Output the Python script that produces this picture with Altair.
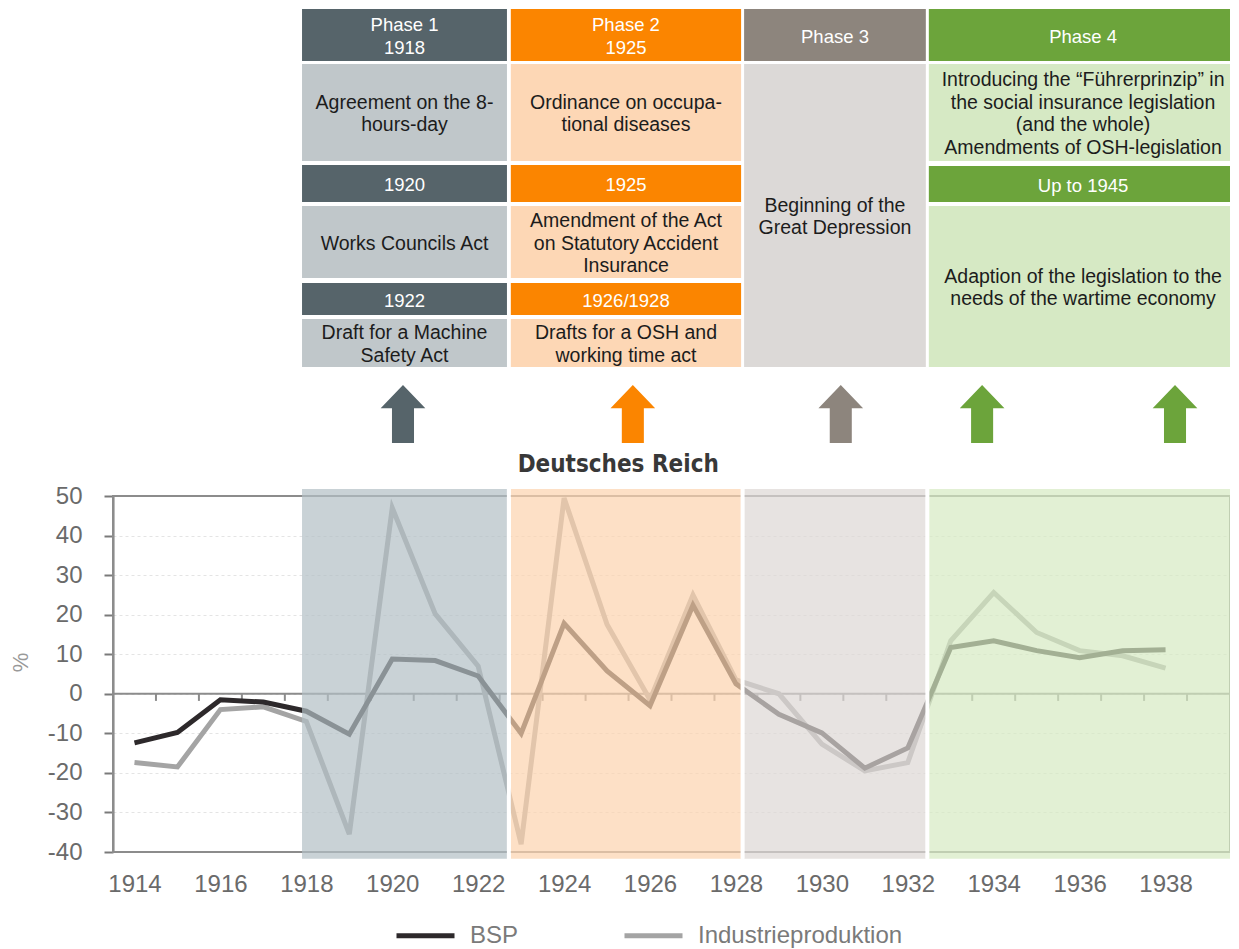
import altair as alt
import pandas as pd

# ---------------- data ----------------
years = [1914, 1915, 1916, 1917, 1918, 1919, 1920, 1921, 1922, 1923, 1924, 1925, 1926,
         1927, 1928, 1929, 1930, 1931, 1932, 1933, 1934, 1935, 1936, 1937, 1938]
bsp = [-12.4, -9.8, -1.5, -2.1, -4.4, -10.2, 8.8, 8.4, 4.5, -10.0, 17.8, 5.8, -3.0,
       22.4, 2.5, -5.2, -9.9, -18.8, -13.7, 11.7, 13.4, 10.9, 9.1, 10.9, 11.1]
industrie = [-17.4, -18.5, -4.0, -3.3, -7.0, -35.5, 47.0, 20.2, 7.0, -38.0, 49.5, 17.5, -1.5,
             25.0, 3.5, 0.0, -12.7, -19.5, -17.4, 13.4, 25.6, 15.5, 10.9, 9.6, 6.5]
series_names = ["BSP", "Industrieproduktion"]
series_colors = ["#2d292b", "#a4a4a4"]

phase_start = [1917.9, 1922.76, 1928.19, 1932.49]
phase_end = [1922.67, 1928.12, 1932.42, 1939.67]
phase_dark = ["#56646a", "#fb8500", "#8d857d", "#6ca43b"]
phase_light = ["#c0c7ca", "#fdd7b5", "#dcd9d7", "#d6e9c4"]
phase_tint = ["#b2bfc4", "#fcd3ae", "#ddd7d4", "#d6eac2"]

y_ticks = [-40, -30, -20, -10, 0, 10, 20, 30, 40, 50]
x_labels = [1914, 1916, 1918, 1920, 1922, 1924, 1926, 1928, 1930, 1932, 1934, 1936, 1938]
minor_ticks = [1914.5, 1915.5, 1916.5, 1917.5, 1918.5, 1919.5, 1920.5, 1921.5, 1922.5,
               1923.5, 1924.5, 1925.5, 1926.5, 1927.5, 1928.5, 1929.5, 1930.5, 1931.5,
               1932.5, 1933.5, 1934.5, 1935.5, 1936.5, 1937.5, 1938.5]

cell_phase = [0, 0, 0, 0, 0, 0, 1, 1, 1, 1, 1, 1, 2, 2, 3, 3, 3, 3]
cell_kind = ["h", "c", "h", "c", "h", "c", "h", "c", "h", "c", "h", "c", "h", "c", "h", "c", "h", "c"]
cell_text = [
    "Phase 1\n1918", "Agreement on the 8-\nhours-day", "1920", "Works Councils Act",
    "1922", "Draft for a Machine\nSafety Act",
    "Phase 2\n1925", "Ordinance on occupa-\ntional diseases", "1925",
    "Amendment of the Act\non Statutory Accident\nInsurance", "1926/1928",
    "Drafts for a OSH and\nworking time act",
    "Phase 3", "Beginning of the\nGreat Depression",
    "Phase 4",
    "Introducing the \u201cF\u00fchrerprinzip\u201d in\nthe social insurance legislation\n(and the whole)\nAmendments of OSH-legislation",
    "Up to 1945", "Adaption of the legislation to the\nneeds of the wartime economy",
]

arrow_year = [1920.25, 1925.6, 1930.44, 1933.73, 1938.22]
arrow_phase = [0, 1, 2, 3, 3]
title_text = "Deutsches Reich"
title_year = 1925.26

# ---------------- layout (page pixel rows of the table) ----------------
cell_top = [9, 64, 165, 206, 283, 319, 9, 64, 165, 206, 283, 319, 9, 64, 9, 64, 166, 206]
cell_bot = [61, 161, 202, 278, 315, 367, 61, 161, 202, 278, 315, 367, 61, 367, 61, 161, 202, 367]
LINE_H = 22.5
TEXT_SHIFT = 1.5
ARROW_Y = 414
TITLE_Y = 465
PANEL_TOP, PANEL_BOT = 51.8, -41.7

FONT = "Liberation Sans"
X = alt.Scale(domain=[1913.5, 1939.5], nice=False, zero=False)
YC = alt.Scale(domain=[-40, 50], range=[843, 487], nice=False, zero=False)
YP = alt.Scale(domain=[9, 852], range=[0, 843], nice=False, zero=False)
XAX = alt.Axis(values=x_labels, labelExpr="'' + datum.value", ticks=False, tickSize=0,
               domain=False, grid=False, labelFontSize=24, labelFont=FONT,
               labelColor="#6a6a6a", labelPadding=20, title=None)

# frame of the original graph
frame_df = pd.DataFrame({"x0": [1913.5], "x1": [1939.5], "y0": [-40], "y1": [50]})
frame = alt.Chart(frame_df).mark_rect(fillOpacity=0, stroke="#8c8c8c", strokeWidth=2).encode(
    x=alt.X("x0:Q", scale=X, axis=XAX, title=None), x2="x1:Q",
    y=alt.Y("y0:Q", scale=YC, axis=None), y2="y1:Q")

zero_df = pd.DataFrame({"x0": [1913.5], "x1": [1939.5], "y0": [0]})
zero = alt.Chart(zero_df).mark_rule(color="#8c8c8c", strokeWidth=2).encode(
    x=alt.X("x0:Q", scale=X, axis=XAX, title=None), x2="x1:Q",
    y=alt.Y("y0:Q", scale=YC, axis=None))

ticks_df = pd.DataFrame({"x0": minor_ticks, "y0": [0] * len(minor_ticks), "y1": [-1.8] * len(minor_ticks)})
ticks = alt.Chart(ticks_df).mark_rule(color="#8c8c8c", strokeWidth=2).encode(
    x=alt.X("x0:Q", scale=X, axis=XAX, title=None),
    y=alt.Y("y0:Q", scale=YC, axis=None), y2="y1:Q")

lines_df = pd.DataFrame({
    "year": years + years,
    "value": industrie + bsp,
    "series": [series_names[1]] * len(years) + [series_names[0]] * len(years),
})
lines = alt.Chart(lines_df).mark_line(strokeWidth=5).encode(
    x=alt.X("year:Q", scale=X, axis=XAX, title=None),
    y=alt.Y("value:Q", scale=YC, title="%",
            axis=alt.Axis(orient="left", values=y_ticks, labelExpr="'' + datum.value",
                          labelFontSize=24, labelFont=FONT, labelColor="#6a6a6a",
                          labelPadding=22, tickSize=9, tickWidth=2, tickColor="#7a7a7a",
                          domainColor="#7a7a7a", domainWidth=2, grid=True,
                          gridColor="#e4e4e4", gridDash=[3, 3], gridWidth=1,
                          titleFontSize=22, titleFont=FONT, titleFontWeight="normal",
                          titleColor="#999999", titleX=-93, titleY=653, titleAngle=270,
                          titleAlign="center", titleBaseline="middle")),
    color=alt.Color("series:N", scale=alt.Scale(domain=series_names, range=series_colors),
                    legend=alt.Legend(orient="none", legendX=281, legendY=895,
                                      direction="horizontal", title=None,
                                      symbolType="stroke", symbolSize=3364,
                                      symbolStrokeWidth=5, labelFontSize=24,
                                      labelFont=FONT, labelColor="#7a7a7a",
                                      labelOffset=13, columnPadding=95, labelLimit=400)),
    detail="series:N",
)

# phase overlays on the graph
ph_df = pd.DataFrame({"x0": phase_start, "x1": phase_end, "tint": phase_tint,
                      "y0": [PANEL_BOT] * 4, "y1": [PANEL_TOP] * 4})
overlay = alt.Chart(ph_df).mark_rect(fillOpacity=0.7).encode(
    x=alt.X("x0:Q", scale=X, axis=XAX, title=None), x2="x1:Q",
    y=alt.Y("y0:Q", scale=YC, axis=None), y2="y1:Q",
    fill=alt.Fill("tint:N", scale=None))

gap_df = pd.DataFrame({"x0": [(phase_end[i] + phase_start[i + 1]) / 2 for i in range(3)],
                       "y0": [PANEL_BOT] * 3, "y1": [PANEL_TOP] * 3})
gaps = alt.Chart(gap_df).mark_rule(color="white", strokeWidth=4).encode(
    x=alt.X("x0:Q", scale=X, axis=XAX, title=None),
    y=alt.Y("y0:Q", scale=YC, axis=None), y2="y1:Q")

# table
n_lines = [t.count("\n") + 1 for t in cell_text]
cells_df = pd.DataFrame({
    "x0": [phase_start[p] for p in cell_phase],
    "x1": [phase_end[p] for p in cell_phase],
    "xc": [(phase_start[p] + phase_end[p]) / 2 for p in cell_phase],
    "top": cell_top, "bot": cell_bot,
    "yc": [(a + b) / 2 - (n - 1) * LINE_H / 2 + TEXT_SHIFT
           for a, b, n in zip(cell_top, cell_bot, n_lines)],
    "bg": [phase_dark[p] if k == "h" else phase_light[p] for p, k in zip(cell_phase, cell_kind)],
    "fg": ["#ffffff" if k == "h" else "#1c1c1c" for k in cell_kind],
    "fs": [18.5 if k == "h" else 19.5 for k in cell_kind],
    "label": cell_text,
})
cells = alt.Chart(cells_df).mark_rect().encode(
    x=alt.X("x0:Q", scale=X, axis=XAX, title=None), x2="x1:Q",
    y=alt.Y("top:Q", scale=YP, axis=None), y2="bot:Q",
    fill=alt.Fill("bg:N", scale=None))
cell_txt = alt.Chart(cells_df).mark_text(font=FONT, lineBreak="\n", lineHeight=LINE_H,
                                         align="center", baseline="middle").encode(
    x=alt.X("xc:Q", scale=X, axis=XAX, title=None),
    y=alt.Y("yc:Q", scale=YP, axis=None),
    text="label:N",
    size=alt.Size("fs:Q", scale=None),
    fill=alt.Fill("fg:N", scale=None))

ARROW = "M -0.38 1 L 0.38 1 L 0.38 -0.2 L 0.77 -0.2 L 0 -1 L -0.77 -0.2 L -0.38 -0.2 Z"
arrows_df = pd.DataFrame({"x0": arrow_year, "y0": [ARROW_Y] * len(arrow_year),
                          "col": [phase_dark[p] for p in arrow_phase]})
arrows = alt.Chart(arrows_df).mark_point(shape=ARROW, filled=True, size=3364, opacity=1,
                                         strokeWidth=0).encode(
    x=alt.X("x0:Q", scale=X, axis=XAX, title=None),
    y=alt.Y("y0:Q", scale=YP, axis=None),
    fill=alt.Fill("col:N", scale=None))

title_df = pd.DataFrame({"x0": [title_year], "y0": [TITLE_Y], "t": [title_text]})
title = alt.Chart(title_df).mark_text(font="DejaVu Sans Condensed", fontWeight="bold",
                                      fontSize=24, color="#383838", align="center",
                                      baseline="middle").encode(
    x=alt.X("x0:Q", scale=X, axis=XAX, title=None),
    y=alt.Y("y0:Q", scale=YP, axis=None),
    text="t:N")

chart = alt.layer(frame, zero, ticks, lines, overlay, gaps, cells, cell_txt, arrows, title).resolve_scale(
    y="independent"
).properties(
    width=1117, height=843,
    padding={"left": 105, "top": 1, "right": 0, "bottom": 96},
    autosize=alt.AutoSizeParams(type="none"),
).configure(font=FONT).configure_view(stroke=None)

chart.save("out.html", embed_options={"renderer": "svg", "actions": False})
